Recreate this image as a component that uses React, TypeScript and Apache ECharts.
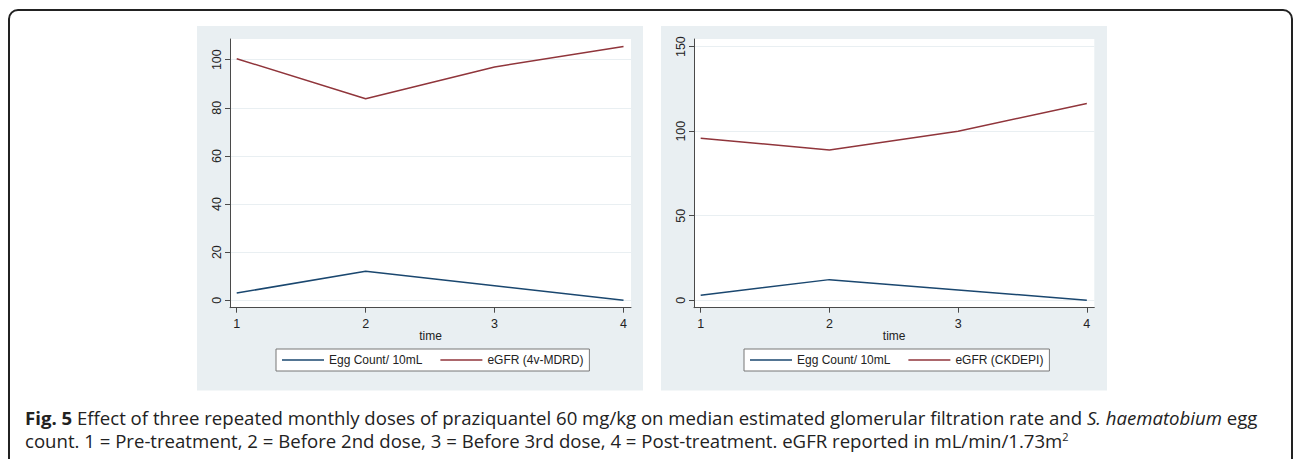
import React, { useEffect, useRef } from "react";
import * as echarts from "echarts";

const timePoints = [1, 2, 3, 4];
const eggCountLeft = [3.0, 12.1, 6.0, 0.0];
const egfrMDRD = [100.4, 83.8, 97.0, 105.5];
const eggCountRight = [3.0, 12.2, 6.1, 0.0];
const egfrCKDEPI = [95.8, 88.9, 100.0, 116.3];
const leftYTicks = [0, 20, 40, 60, 80, 100];
const rightYTicks = [0, 50, 100, 150];
const xTicks = [1, 2, 3, 4];

const NAVY = "#1a476f";
const MAROON = "#90353b";
const AXIS = "#4a4a4a";
const FONT = "Liberation Sans, Arial, sans-serif";
const CAP_FONT = "Open Sans, sans-serif";
const CAP_SIZE = 18.6;

function pairs(xs: number[], ys: number[]) {
  return xs.map((x, i) => [x, ys[i]]);
}

export default function App() {
  const ref = useRef<HTMLDivElement>(null);
  useEffect(() => {
    if (!ref.current) return;
    const chart = echarts.init(ref.current, null, { renderer: "svg" });
    const xAxisBase = (gridIndex: number) => ({
      type: "value",
      gridIndex,
      min: 0.948,
      max: 4.058,
      name: "time",
      nameLocation: "middle",
      nameGap: 22,
      nameMoveOverlap: false,
      nameTextStyle: { fontFamily: FONT, fontSize: 12, color: "#222", verticalAlign: "top" },
      axisLine: { show: true, onZero: false, lineStyle: { color: AXIS, width: 1 } },
      axisTick: { show: true, length: 5, customValues: xTicks, lineStyle: { color: AXIS } },
      axisLabel: { customValues: xTicks, margin: 10, fontFamily: FONT, fontSize: 12.5, color: "#222" },
      splitLine: { show: false },
    });
    const yAxisBase = (gridIndex: number, min: number, max: number, ticks: number[]) => ({
      type: "value",
      gridIndex,
      min,
      max,
      axisLine: { show: true, onZero: false, lineStyle: { color: AXIS, width: 1 } },
      axisTick: { show: true, length: 5, customValues: ticks, lineStyle: { color: AXIS } },
      axisLabel: {
        customValues: ticks,
        rotate: 90,
        margin: 7,
        fontFamily: FONT,
        fontSize: 12.5,
        color: "#222",
      },
      splitLine: { show: true, lineStyle: { color: "#e9eff2", width: 1 } },
    });
    const legendBase = (left: number, names: string[]) => ({
      left,
      top: 349,
      orient: "horizontal",
      data: names,
      icon: "rect",
      backgroundColor: "#ffffff",
      borderColor: "#777",
      borderWidth: 1,
      borderRadius: 0,
      padding: [4, 6, 4, 6],
      itemWidth: 42,
      itemHeight: 1.5,
      itemGap: 18,
      textStyle: { fontFamily: FONT, fontSize: 12, color: "#222", lineHeight: 14 },
      selectedMode: false,
    });
    const lineSeries = (name: string, xi: number, data: number[], color: string) => ({
      type: "line",
      name,
      xAxisIndex: xi,
      yAxisIndex: xi,
      data: pairs(timePoints, data),
      symbol: "none",
      lineStyle: { color, width: 1.5 },
      itemStyle: { color },
    });
    chart.setOption({
      animation: false,
      graphic: [
        {
          type: "rect",
          z: -10,
          shape: { x: 9, y: 10, width: 1283, height: 480, r: 9 },
          style: { fill: "#ffffff", stroke: "#222", lineWidth: 2 },
        },
        {
          type: "rect",
          z: -5,
          shape: { x: 197, y: 26, width: 446, height: 364.5 },
          style: { fill: "#e9eff2" },
        },
        {
          type: "rect",
          z: -5,
          shape: { x: 661, y: 26, width: 446, height: 364.5 },
          style: { fill: "#e9eff2" },
        },
        {
          type: "text",
          x: 25,
          y: 417,
          style: {
            text:
              "{b|Fig. 5} Effect of three repeated monthly doses of praziquantel 60 mg/kg on median estimated glomerular filtration rate and {i|S. haematobium} egg",
            fontFamily: CAP_FONT,
            fontSize: CAP_SIZE,
            lineHeight: 20,
            fill: "#222",
            verticalAlign: "middle",
            rich: {
              b: { fontWeight: "bold", fontFamily: CAP_FONT, fontSize: CAP_SIZE, lineHeight: 20, fill: "#222" },
              i: { fontStyle: "italic", fontFamily: CAP_FONT, fontSize: CAP_SIZE, lineHeight: 20, fill: "#222" },
            },
          },
        },
        {
          type: "text",
          x: 25,
          y: 440.5,
          style: {
            text:
              "count. 1 = Pre-treatment, 2 = Before 2nd dose, 3 = Before 3rd dose, 4 = Post-treatment. eGFR reported in mL/min/1.73m{s|2}",
            fontFamily: CAP_FONT,
            fontSize: CAP_SIZE,
            lineHeight: 20,
            fill: "#222",
            verticalAlign: "middle",
            rich: {
              s: { fontFamily: CAP_FONT, fontSize: 11, lineHeight: 11, fill: "#222", verticalAlign: "top" },
            },
          },
        },
      ],
      grid: [
        { left: 230, top: 39, width: 401, height: 268.7, show: true, backgroundColor: "#ffffff", borderWidth: 0 },
        { left: 694, top: 39, width: 400.3, height: 268.7, show: true, backgroundColor: "#ffffff", borderWidth: 0 },
      ],
      xAxis: [xAxisBase(0), xAxisBase(1)],
      yAxis: [yAxisBase(0, -3.08, 108.6, leftYTicks), yAxisBase(1, -4.4, 154.5, rightYTicks)],
      legend: [
        legendBase(276, ["Egg Count/ 10mL", "eGFR (4v-MDRD)"]),
        legendBase(744, ["Egg Count/ 10mL", "eGFR (CKDEPI)"]),
      ],
      series: [
        lineSeries("Egg Count/ 10mL", 0, eggCountLeft, NAVY),
        lineSeries("eGFR (4v-MDRD)", 0, egfrMDRD, MAROON),
        lineSeries("Egg Count/ 10mL", 1, eggCountRight, NAVY),
        lineSeries("eGFR (CKDEPI)", 1, egfrCKDEPI, MAROON),
      ],
    });
    return () => chart.dispose();
  }, []);
  return (
    <div
      ref={ref}
      style={{ position: "fixed", left: 0, top: 0, width: 1293, height: 459, background: "#ffffff" }}
    />
  );
}
